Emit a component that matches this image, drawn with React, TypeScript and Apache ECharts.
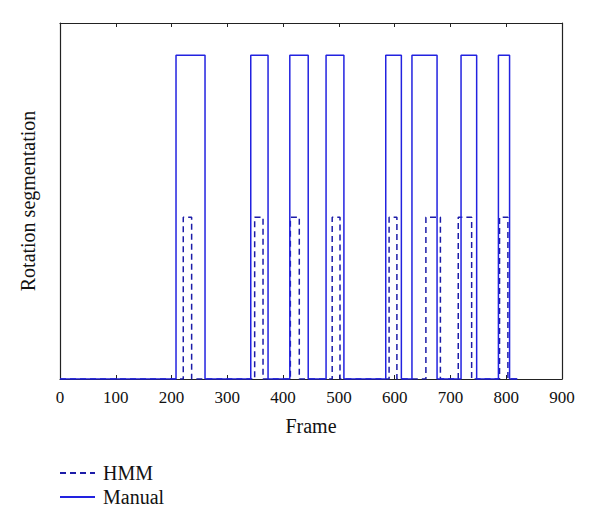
import React, { useEffect, useRef } from "react";
import * as echarts from "echarts";

const xTicks = [0, 100, 200, 300, 400, 500, 600, 700, 800, 900];
const frameEnd = 820;
const manualLevel = 2;
const hmmLevel = 1;
const manualIntervals: [number, number][] = [
  [208, 260], [342, 373], [412, 445], [477, 509],
  [584, 612], [631, 676], [719, 747], [786, 806],
];
const hmmIntervals: [number, number][] = [
  [221, 236], [349, 364], [413, 429], [488, 502],
  [590, 604], [656, 682], [714, 738], [788, 803],
];

function toSteps(intervals: [number, number][], level: number, end: number) {
  const pts: [number, number][] = [[0, 0]];
  for (const [a, b] of intervals) {
    pts.push([a, 0], [a, level], [b, level], [b, 0]);
  }
  pts.push([end, 0]);
  return pts;
}

const FONT = "Liberation Serif";
const HMM_COLOR = "#1c1ca8";
const MANUAL_COLOR = "#2222e0";

export default function App() {
  const ref = useRef<HTMLDivElement>(null);
  useEffect(() => {
    document.body.style.margin = "0";
    if (!ref.current) return;
    const chart = echarts.init(ref.current, undefined, { renderer: "svg" });
    const axisLine = { show: true, onZero: false, lineStyle: { color: "#222", width: 1.2 } };
    chart.setOption({
      animation: false,
      backgroundColor: "#fff",
      grid: { left: 60, right: 38, top: 23, bottom: 147 },
      legend: {
        orient: "vertical",
        left: 54,
        top: 458,
        itemWidth: 35,
        itemHeight: 14,
        itemGap: 4,
        itemStyle: { opacity: 0 },
        textStyle: { fontFamily: FONT, fontSize: 20, color: "#111", padding: [0, 0, 0, 3] },
        data: ["HMM", "Manual"],
      },
      xAxis: [
        {
          type: "value",
          min: 0,
          max: 900,
          interval: 100,
          name: "Frame",
          nameLocation: "middle",
          nameGap: 37,
          nameTextStyle: { fontFamily: FONT, fontSize: 20, color: "#111" },
          axisLine,
          axisTick: { show: true, inside: true, length: 4, lineStyle: { color: "#222" } },
          axisLabel: { fontFamily: FONT, fontSize: 17, color: "#111", margin: 10,
            formatter: (v: number) => (xTicks.includes(v) ? String(v) : "") },
          splitLine: { show: false },
        },
        {
          type: "value",
          position: "top",
          min: 0,
          max: 900,
          interval: 100,
          axisLine,
          axisTick: { show: true, inside: true, length: 4, lineStyle: { color: "#222" } },
          axisLabel: { show: false },
          splitLine: { show: false },
        },
      ],
      yAxis: [
        {
          type: "value",
          min: 0,
          max: 2.2,
          name: "Rotation segmentation",
          nameLocation: "middle",
          nameGap: 22,
          nameTextStyle: { fontFamily: FONT, fontSize: 20, color: "#111" },
          axisLine,
          axisTick: { show: false },
          axisLabel: { show: false },
          splitLine: { show: false },
        },
        {
          type: "value",
          position: "right",
          min: 0,
          max: 2.2,
          axisLine,
          axisTick: { show: false },
          axisLabel: { show: false },
          splitLine: { show: false },
        },
      ],
      series: [
        {
          name: "HMM",
          type: "line",
          symbol: "none",
          z: 5,
          data: toSteps(hmmIntervals, hmmLevel, frameEnd),
          lineStyle: { color: HMM_COLOR, width: 1.5, type: [6, 4] },
          itemStyle: { color: HMM_COLOR },
        },
        {
          name: "Manual",
          type: "line",
          symbol: "none",
          z: 6,
          data: toSteps(manualIntervals, manualLevel, frameEnd),
          lineStyle: { color: MANUAL_COLOR, width: 1.5, type: "solid" },
          itemStyle: { color: MANUAL_COLOR },
        },
      ],
    });
    return () => chart.dispose();
  }, []);
  return <div ref={ref} style={{ width: 600, height: 526 }} />;
}
